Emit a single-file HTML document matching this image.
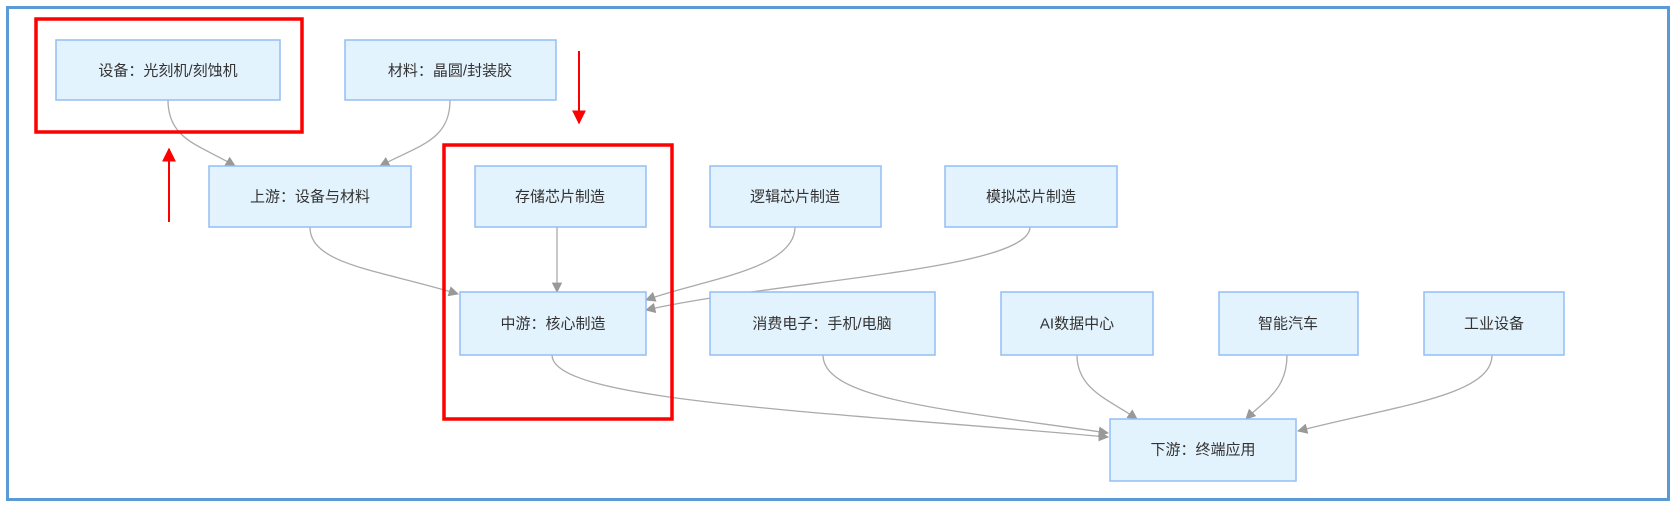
<!DOCTYPE html>
<html><head><meta charset="utf-8"><style>
html,body{margin:0;padding:0;background:#fff;}
svg text{font-family:"Liberation Sans","Noto Sans CJK SC",sans-serif;font-size:15px;fill:#333;text-anchor:middle;dominant-baseline:central;}
</style></head><body>
<svg width="1677" height="507" viewBox="0 0 1677 507" xmlns="http://www.w3.org/2000/svg">
<defs>
<marker id="a" viewBox="0 0 10 10" refX="9" refY="5" markerWidth="8" markerHeight="8" orient="auto-start-reverse"><path d="M0,0L10,5L0,10z" fill="#999"/></marker>
<marker id="r" viewBox="0 0 10 10" refX="9" refY="5" markerWidth="7" markerHeight="7" orient="auto"><path d="M0,0L10,5L0,10z" fill="#f00"/></marker>
</defs>
<rect x="7.5" y="7.5" width="1661" height="492" fill="#fff" stroke="#5b9bd5" stroke-width="3"/>
<g fill="none" stroke="#aaa" stroke-width="1.3" marker-end="url(#a)">
<path d="M168,100 C168,140 200,145 235,166"/>
<path d="M450,100 C450,140 420,145 380,166"/>
<path d="M310,227 C310,265 380,270 458,294"/>
<path d="M557,227 L557,292"/>
<path d="M795,227 C795,270 700,280 646,300"/>
<path d="M1030,227 C1030,270 780,280 646,310"/>
<path d="M552,355 C552,400 800,410 1108,437"/>
<path d="M823,355 C823,400 950,410 1108,433"/>
<path d="M1077,355 C1077,390 1110,400 1137,419"/>
<path d="M1287,355 C1287,390 1265,400 1246,419"/>
<path d="M1492,355 C1492,395 1400,405 1298,431"/>
</g>
<g fill="#e3f3fd" stroke="#93bef6" stroke-width="1.5">
<rect x="56" y="40" width="224" height="60"/>
<rect x="345" y="40" width="211" height="60"/>
<rect x="209" y="166" width="202" height="61"/>
<rect x="475" y="166" width="171" height="61"/>
<rect x="710" y="166" width="171" height="61"/>
<rect x="945" y="166" width="172" height="61"/>
<rect x="460" y="292" width="186" height="63"/>
<rect x="710" y="292" width="225" height="63"/>
<rect x="1001" y="292" width="152" height="63"/>
<rect x="1219" y="292" width="139" height="63"/>
<rect x="1424" y="292" width="140" height="63"/>
<rect x="1110" y="419" width="186" height="62"/>
</g>
<text x="168" y="71">设备：光刻机/刻蚀机</text>
<text x="450" y="71">材料：晶圆/封装胶</text>
<text x="310" y="197">上游：设备与材料</text>
<text x="560" y="197">存储芯片制造</text>
<text x="795" y="197">逻辑芯片制造</text>
<text x="1031" y="197">模拟芯片制造</text>
<text x="553" y="324">中游：核心制造</text>
<text x="822" y="324">消费电子：手机/电脑</text>
<text x="1077" y="324">AI数据中心</text>
<text x="1288" y="324">智能汽车</text>
<text x="1494" y="324">工业设备</text>
<text x="1203" y="450">下游：终端应用</text>
<g fill="none" stroke="#f00" stroke-width="3.5">
<rect x="36" y="19" width="266" height="113"/>
<rect x="444" y="145" width="228" height="274"/>
</g>
<g stroke="#f00" stroke-width="2" marker-end="url(#r)">
<line x1="579" y1="51" x2="579" y2="123"/>
<line x1="169" y1="222" x2="169" y2="149"/>
</g>
</svg>
</body></html>
